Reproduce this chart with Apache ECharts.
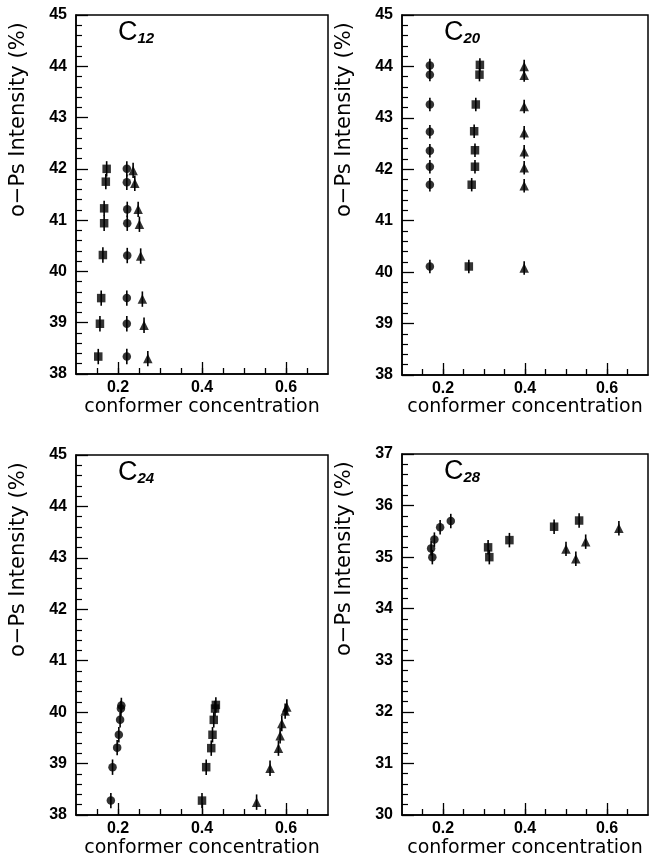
<!DOCTYPE html>
<html>
<head>
<meta charset="utf-8">
<script src="https://cdn.jsdelivr.net/npm/echarts@6/dist/echarts.min.js"></script>
<style>
  html, body { margin: 0; padding: 0; background: #fff; }
  #chart { width: 650px; height: 862px; }
</style>
</head>
<body>
<div id="chart"></div>
<script>
// o-Ps intensity versus conformer concentration for four alkanes (C12, C20, C24, C28)

// ---- axis ticks ----
const xLabelTicks = [0.2, 0.4, 0.6];
const xMinorTicks = [0.15, 0.2, 0.25, 0.3, 0.35, 0.4, 0.45, 0.5, 0.55, 0.6, 0.65];
const yRangeUpper = [38, 45];
const yRangeC28 = [30, 37];

// ---- C12 ----
const c12Squares = [[0.173, 42.0], [0.171, 41.75], [0.167, 41.23], [0.167, 40.94], [0.164, 40.32], [0.160, 39.48], [0.157, 38.98], [0.153, 38.34]];
const c12Circles = [[0.221, 42.0], [0.221, 41.74], [0.222, 41.21], [0.222, 40.94], [0.222, 40.31], [0.221, 39.48], [0.221, 38.98], [0.221, 38.34]];
const c12Triangles = [[0.236, 41.97], [0.240, 41.72], [0.248, 41.21], [0.251, 40.92], [0.254, 40.30], [0.258, 39.46], [0.262, 38.95], [0.271, 38.30]];
const c12Err = 0.15;

// ---- C20 ----
const c20Circles = [[0.168, 44.02], [0.168, 43.84], [0.168, 43.26], [0.168, 42.73], [0.168, 42.36], [0.168, 42.05], [0.168, 41.70], [0.168, 40.11]];
const c20Squares = [[0.290, 44.03], [0.289, 43.84], [0.280, 43.26], [0.276, 42.74], [0.278, 42.37], [0.278, 42.05], [0.270, 41.70], [0.263, 40.11]];
const c20Triangles = [[0.398, 44.0], [0.398, 43.83], [0.398, 43.22], [0.398, 42.71], [0.398, 42.34], [0.398, 42.03], [0.398, 41.68], [0.398, 40.08]];
const c20Err = 0.13;

// ---- C24 ----
const c24Circles = [[0.183, 38.28], [0.187, 38.93], [0.198, 39.31], [0.202, 39.56], [0.205, 39.85], [0.207, 40.07], [0.208, 40.13]];
const c24Squares = [[0.400, 38.28], [0.410, 38.93], [0.422, 39.30], [0.425, 39.56], [0.428, 39.85], [0.431, 40.07], [0.433, 40.14]];
const c24Triangles = [[0.530, 38.25], [0.562, 38.91], [0.582, 39.30], [0.586, 39.54], [0.590, 39.78], [0.598, 40.02], [0.602, 40.10]];
const c24Err = 0.15;

// ---- C28 ----
const c28Circles = [[0.174, 35.0], [0.171, 35.17], [0.179, 35.34], [0.193, 35.58], [0.219, 35.70]];
const c28Squares = [[0.310, 35.19], [0.313, 35.0], [0.362, 35.33], [0.471, 35.59], [0.532, 35.71]];
const c28Triangles = [[0.500, 35.16], [0.524, 34.97], [0.548, 35.30], [0.629, 35.56]];
const c28Err = 0.14;

// ---- text ----
const xTitle = 'conformer concentration';
const yTitle = 'o\u2212Ps Intensity (%)';
const panelNames = ['12', '20', '24', '28'];

const grids = [
  { left: 76, top: 15, width: 252, height: 359 },
  { left: 402, top: 15, width: 246, height: 360 },
  { left: 76, top: 455, width: 252, height: 360 },
  { left: 402, top: 454, width: 246, height: 361 }
];

const FONT = 'Liberation Sans';
const TITLE_FONT = 'DejaVu Sans';
const INK = '#000';

const gridOpts = grids.map(g => Object.assign({
  show: true, borderColor: INK, borderWidth: 1.5, backgroundColor: 'transparent',
  containLabel: false
}, g));

const xAxes = [];
const yAxes = [];
grids.forEach((g, i) => {
  // labelled axis with the long ticks
  xAxes.push({
    type: 'value', gridIndex: i, min: 0.1, max: 0.7, position: 'bottom',
    axisLine: { show: true, onZero: false, lineStyle: { color: INK, width: 1.5 } },
    axisTick: { show: true, inside: true, length: 12, customValues: xLabelTicks, lineStyle: { color: INK, width: 1.3 } },
    axisLabel: { show: true, customValues: xLabelTicks, margin: 6, color: INK, fontFamily: FONT, fontSize: 16, fontWeight: 'bold',
      formatter: v => v.toFixed(1) },
    splitLine: { show: false }
  });
  // short ticks every 0.05
  xAxes.push({
    type: 'value', gridIndex: i, min: 0.1, max: 0.7, position: 'bottom',
    axisLine: { show: false },
    axisTick: { show: true, inside: true, length: 6, customValues: xMinorTicks, lineStyle: { color: INK, width: 1.3 } },
    axisLabel: { show: false },
    splitLine: { show: false }
  });
  const r = i === 3 ? yRangeC28 : yRangeUpper;
  yAxes.push({
    type: 'value', gridIndex: i, min: r[0], max: r[1], interval: 1,
    axisLine: { show: true, onZero: false, lineStyle: { color: INK, width: 1.5 } },
    axisTick: { show: true, inside: true, length: 12, lineStyle: { color: INK, width: 1.3 } },
    minorTick: { show: true, splitNumber: 5, length: 6, lineStyle: { color: INK, width: 1.2 } },
    axisLabel: { show: true, margin: 9, color: INK, fontFamily: FONT, fontSize: 16, fontWeight: 'bold' },
    splitLine: { show: false }
  });
});

function errorBar(params, api) {
  const x = api.value(0), y = api.value(1), e = api.value(2);
  const lo = api.coord([x, y - e]);
  const hi = api.coord([x, y + e]);
  return {
    type: 'line',
    shape: { x1: lo[0], y1: lo[1], x2: hi[0], y2: hi[1] },
    style: { stroke: INK, lineWidth: 1.6 }
  };
}

const symbolOf = { square: 'rect', circle: 'circle', triangle: 'triangle' };
const sizeOf = { square: 8.5, circle: 8.5, triangle: 9.5 };

const panelSeries = [
  [['square', c12Squares], ['circle', c12Circles], ['triangle', c12Triangles], c12Err],
  [['circle', c20Circles], ['square', c20Squares], ['triangle', c20Triangles], c20Err],
  [['circle', c24Circles], ['square', c24Squares], ['triangle', c24Triangles], c24Err],
  [['circle', c28Circles], ['square', c28Squares], ['triangle', c28Triangles], c28Err]
];

const series = [];
panelSeries.forEach((p, i) => {
  const err = p[3];
  p.slice(0, 3).forEach(([kind, pts]) => {
    series.push({
      type: 'custom', xAxisIndex: 2 * i, yAxisIndex: i,
      renderItem: errorBar, silent: true, z: 2,
      data: pts.map(d => [d[0], d[1], err])
    });
    series.push({
      type: 'scatter', xAxisIndex: 2 * i, yAxisIndex: i,
      symbol: symbolOf[kind], symbolSize: sizeOf[kind], silent: true, z: 3,
      itemStyle: { color: INK },
      data: pts
    });
  });
});

// axis titles and panel names
const graphics = [];
grids.forEach((g, i) => {
  const cx = g.left + g.width / 2;
  const xTitleY = i < 2 ? 407 : 848;
  graphics.push({
    type: 'text', x: cx, y: xTitleY,
    style: { text: xTitle, fill: INK, font: '19px "' + TITLE_FONT + '"', align: 'center', verticalAlign: 'middle' }
  });
  graphics.push({
    type: 'text', x: g.left - 57, y: g.top + 202, rotation: Math.PI / 2,
    style: { text: yTitle, fill: INK, font: '21px "' + TITLE_FONT + '"', align: 'left', verticalAlign: 'middle' }
  });
  graphics.push({
    type: 'text', x: g.left + 42, y: g.top + 31,
    style: {
      text: '{c|C}{s|' + panelNames[i] + '}', fill: INK, verticalAlign: 'bottom',
      rich: {
        c: { fontFamily: FONT, fontSize: 27, fill: INK, verticalAlign: 'bottom' },
        s: { fontFamily: FONT, fontSize: 15, fontWeight: 'bold', fontStyle: 'italic', fill: INK, verticalAlign: 'bottom' }
      }
    }
  });
});

const chart = echarts.init(document.getElementById('chart'), null, { renderer: 'canvas' });
chart.setOption({
  backgroundColor: '#fff',
  animation: false,
  grid: gridOpts,
  xAxis: xAxes,
  yAxis: yAxes,
  series: series,
  graphic: graphics
});
</script>
</body>
</html>
